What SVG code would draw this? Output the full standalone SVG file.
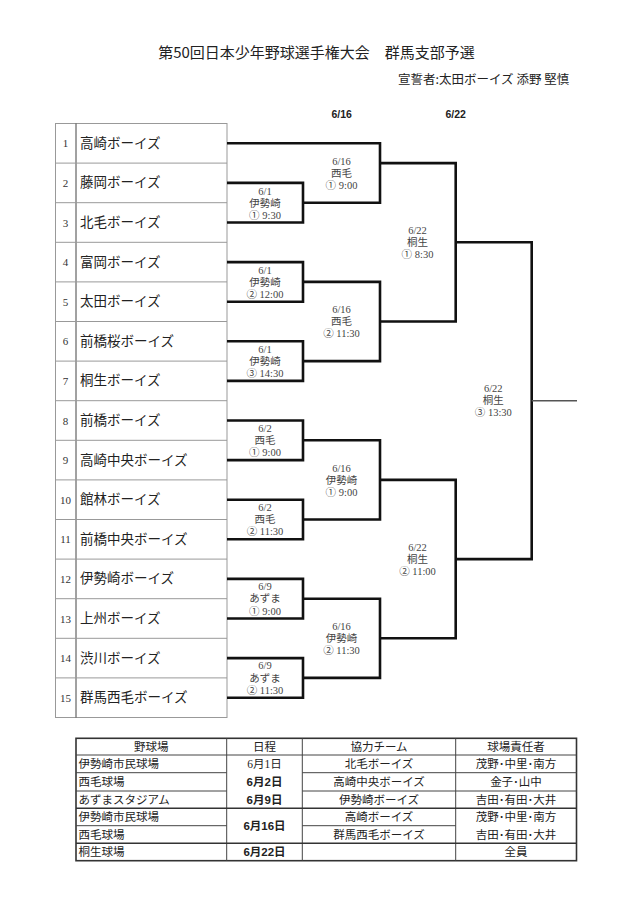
<svg xmlns="http://www.w3.org/2000/svg" width="640" height="906" viewBox="0 0 640 906">
<style>
text{font-family:"Liberation Serif","Noto Sans CJK JP",serif;fill:#222;dominant-baseline:central}
.title{font-family:"Noto Sans CJK JP",sans-serif;font-size:15px;text-anchor:middle}
.sub{font-family:"Noto Sans CJK JP",sans-serif;font-size:12.5px}
.hd{font-family:"Liberation Sans",sans-serif;font-weight:bold;font-size:10.5px;text-anchor:middle}
.num{font-size:11px;text-anchor:middle;fill:#333}
.team{font-size:13.5px}
.lbl{font-size:10.5px;text-anchor:middle;fill:#444}
.tb{font-size:11.5px}
.c{text-anchor:middle}
.b{font-family:"Liberation Sans","Noto Sans CJK JP",sans-serif;font-weight:bold}
.br{fill:none;stroke:#111;stroke-width:2.6}
.fin{fill:none;stroke:#555;stroke-width:1.6}
.grid{stroke:#999;stroke-width:1;fill:none}
.tl{stroke:#444;stroke-width:1;fill:none}
.tk{stroke:#333;stroke-width:1.6;fill:none}
</style>

<g id="title">
<text class="title" x="316.5" y="51.5">第50回日本少年野球選手権大会　群馬支部予選</text>
<text class="sub" x="398" y="78.5">宣誓者:太田ボーイズ 添野 堅慎</text>
<text class="hd" x="341.7" y="114.3">6/16</text>
<text class="hd" x="455.7" y="114.3">6/22</text>
</g>

<g id="team-list">
<rect class="grid" x="55.5" y="123.5" width="171.5" height="594"/>
<line x1="76" y1="123.5" x2="76" y2="717.5" stroke="#444" stroke-width="1"/>
<path class="grid" d="M55.5,163.1H227M55.5,202.7H227M55.5,242.3H227M55.5,281.9H227M55.5,321.5H227M55.5,361.1H227M55.5,400.7H227M55.5,440.3H227M55.5,479.9H227M55.5,519.5H227M55.5,559.1H227M55.5,598.7H227M55.5,638.3H227M55.5,677.9H227"/>
</g>

<g id="team-1"><text class="num" x="65.5" y="143.3">1</text><text class="team" x="80" y="143.3">高崎ボーイズ</text></g>
<g id="team-2"><text class="num" x="65.5" y="182.9">2</text><text class="team" x="80" y="182.9">藤岡ボーイズ</text></g>
<g id="team-3"><text class="num" x="65.5" y="222.5">3</text><text class="team" x="80" y="222.5">北毛ボーイズ</text></g>
<g id="team-4"><text class="num" x="65.5" y="262.1">4</text><text class="team" x="80" y="262.1">富岡ボーイズ</text></g>
<g id="team-5"><text class="num" x="65.5" y="301.7">5</text><text class="team" x="80" y="301.7">太田ボーイズ</text></g>
<g id="team-6"><text class="num" x="65.5" y="341.3">6</text><text class="team" x="80" y="341.3">前橋桜ボーイズ</text></g>
<g id="team-7"><text class="num" x="65.5" y="380.9">7</text><text class="team" x="80" y="380.9">桐生ボーイズ</text></g>
<g id="team-8"><text class="num" x="65.5" y="420.5">8</text><text class="team" x="80" y="420.5">前橋ボーイズ</text></g>
<g id="team-9"><text class="num" x="65.5" y="460.1">9</text><text class="team" x="80" y="460.1">高崎中央ボーイズ</text></g>
<g id="team-10"><text class="num" x="65.5" y="499.7">10</text><text class="team" x="80" y="499.7">館林ボーイズ</text></g>
<g id="team-11"><text class="num" x="65.5" y="539.3">11</text><text class="team" x="80" y="539.3">前橋中央ボーイズ</text></g>
<g id="team-12"><text class="num" x="65.5" y="578.9">12</text><text class="team" x="80" y="578.9">伊勢崎ボーイズ</text></g>
<g id="team-13"><text class="num" x="65.5" y="618.5">13</text><text class="team" x="80" y="618.5">上州ボーイズ</text></g>
<g id="team-14"><text class="num" x="65.5" y="658.1">14</text><text class="team" x="80" y="658.1">渋川ボーイズ</text></g>
<g id="team-15"><text class="num" x="65.5" y="697.7">15</text><text class="team" x="80" y="697.7">群馬西毛ボーイズ</text></g>

<g id="connectors">
<path class="br" d="M227,182.9H303V222.5H227"/>
<path class="br" d="M227,262.1H303V301.7H227"/>
<path class="br" d="M227,341.3H303V380.9H227"/>
<path class="br" d="M227,420.5H303V460.1H227"/>
<path class="br" d="M227,499.7H303V539.3H227"/>
<path class="br" d="M227,578.9H303V618.5H227"/>
<path class="br" d="M227,658.1H303V697.7H227"/>
<path class="br" d="M227,143.3H380V202.7H303"/>
<path class="br" d="M303,281.9H380V361.1H303"/>
<path class="br" d="M303,440.3H380V519.5H303"/>
<path class="br" d="M303,598.7H380V677.9H303"/>
<path class="br" d="M380,163.1H455.7V321.5H380"/>
<path class="br" d="M380,479.9H455.7V638.3H380"/>
<path class="br" d="M455.7,242.3H531.7V559.1H455.7"/>
<path class="fin" d="M531.7,400.7H577"/>
</g>

<g id="m-6-1-1"><text class="lbl" x="265" y="191">6/1</text><text class="lbl" x="265" y="203">伊勢崎</text><text class="lbl" x="265" y="215">① 9:30</text></g>
<g id="m-6-16-1"><text class="lbl" x="341.5" y="161">6/16</text><text class="lbl" x="341.5" y="173">西毛</text><text class="lbl" x="341.5" y="185">① 9:00</text></g>
<g id="m-6-1-2"><text class="lbl" x="265" y="270">6/1</text><text class="lbl" x="265" y="282">伊勢崎</text><text class="lbl" x="265" y="294">② 12:00</text></g>
<g id="m-6-16-2"><text class="lbl" x="341.5" y="309.5">6/16</text><text class="lbl" x="341.5" y="321.5">西毛</text><text class="lbl" x="341.5" y="333.5">② 11:30</text></g>
<g id="m-6-1-3"><text class="lbl" x="265" y="349">6/1</text><text class="lbl" x="265" y="361">伊勢崎</text><text class="lbl" x="265" y="373">③ 14:30</text></g>
<g id="m-6-22-1"><text class="lbl" x="417.5" y="230">6/22</text><text class="lbl" x="417.5" y="242">桐生</text><text class="lbl" x="417.5" y="254.5">① 8:30</text></g>
<g id="m-6-22-3"><text class="lbl" x="493.3" y="388.5">6/22</text><text class="lbl" x="493.3" y="400.5">桐生</text><text class="lbl" x="493.3" y="412.5">③ 13:30</text></g>
<g id="m-6-2-1"><text class="lbl" x="265" y="428.5">6/2</text><text class="lbl" x="265" y="440.5">西毛</text><text class="lbl" x="265" y="452.5">① 9:00</text></g>
<g id="m-6-16-3"><text class="lbl" x="341.5" y="468">6/16</text><text class="lbl" x="341.5" y="480">伊勢崎</text><text class="lbl" x="341.5" y="492">① 9:00</text></g>
<g id="m-6-2-2"><text class="lbl" x="265" y="507.5">6/2</text><text class="lbl" x="265" y="519.5">西毛</text><text class="lbl" x="265" y="531.5">② 11:30</text></g>
<g id="m-6-22-2"><text class="lbl" x="417.5" y="547">6/22</text><text class="lbl" x="417.5" y="559">桐生</text><text class="lbl" x="417.5" y="571.5">② 11:00</text></g>
<g id="m-6-9-1"><text class="lbl" x="265" y="586">6/9</text><text class="lbl" x="265" y="598.5">あずま</text><text class="lbl" x="265" y="611">① 9:00</text></g>
<g id="m-6-16-4"><text class="lbl" x="341.5" y="626">6/16</text><text class="lbl" x="341.5" y="638.5">伊勢崎</text><text class="lbl" x="341.5" y="650.5">② 11:30</text></g>
<g id="m-6-9-2"><text class="lbl" x="265" y="665.5">6/9</text><text class="lbl" x="265" y="678">あずま</text><text class="lbl" x="265" y="690">② 11:30</text></g>

<g id="schedule-table">
<rect class="tk" x="76" y="738.3" width="500.5" height="122.4"/>
<path class="tl" d="M76,755H576.5M76,772.7H226.7M302.3,772.7H576.5M76,791H226.7M302.3,791H576.5M76,825.7H226.7M302.3,825.7H455.7M226.7,738.3V860.7M302.3,738.3V860.7M455.7,738.3V860.7"/>
<path class="tk" d="M76,808.3H576.5M76,843.3H576.5"/>
<text class="tb c" x="151.3" y="746.7">野球場</text>
<text class="tb c" x="264.5" y="746.7">日程</text>
<text class="tb c" x="379" y="746.7">協力チーム</text>
<text class="tb c" x="516" y="746.7">球場責任者</text>
<text class="tb" x="78.5" y="764">伊勢崎市民球場</text>
<text class="tb" x="78.5" y="782">西毛球場</text>
<text class="tb" x="78.5" y="799.7">あずまスタジアム</text>
<text class="tb" x="78.5" y="817">伊勢崎市民球場</text>
<text class="tb" x="78.5" y="834.5">西毛球場</text>
<text class="tb" x="78.5" y="852">桐生球場</text>
<text class="tb c" x="264.5" y="764">6月1日</text>
<text class="tb c b" x="264.5" y="782">6月2日</text>
<text class="tb c b" x="264.5" y="799.7">6月9日</text>
<text class="tb c b" x="264.5" y="826">6月16日</text>
<text class="tb c b" x="264.5" y="852">6月22日</text>
<text class="tb c" x="379" y="764">北毛ボーイズ</text>
<text class="tb c" x="379" y="782">高崎中央ボーイズ</text>
<text class="tb c" x="379" y="799.7">伊勢崎ボーイズ</text>
<text class="tb c" x="379" y="817">高崎ボーイズ</text>
<text class="tb c" x="379" y="834.5">群馬西毛ボーイズ</text>
<text class="tb c" x="516" y="764">茂野･中里･南方</text>
<text class="tb c" x="516" y="782">金子･山中</text>
<text class="tb c" x="516" y="799.7">吉田･有田･大井</text>
<text class="tb c" x="516" y="817">茂野･中里･南方</text>
<text class="tb c" x="516" y="834.5">吉田･有田･大井</text>
<text class="tb c" x="516" y="852">全員</text>
</g>
</svg>
